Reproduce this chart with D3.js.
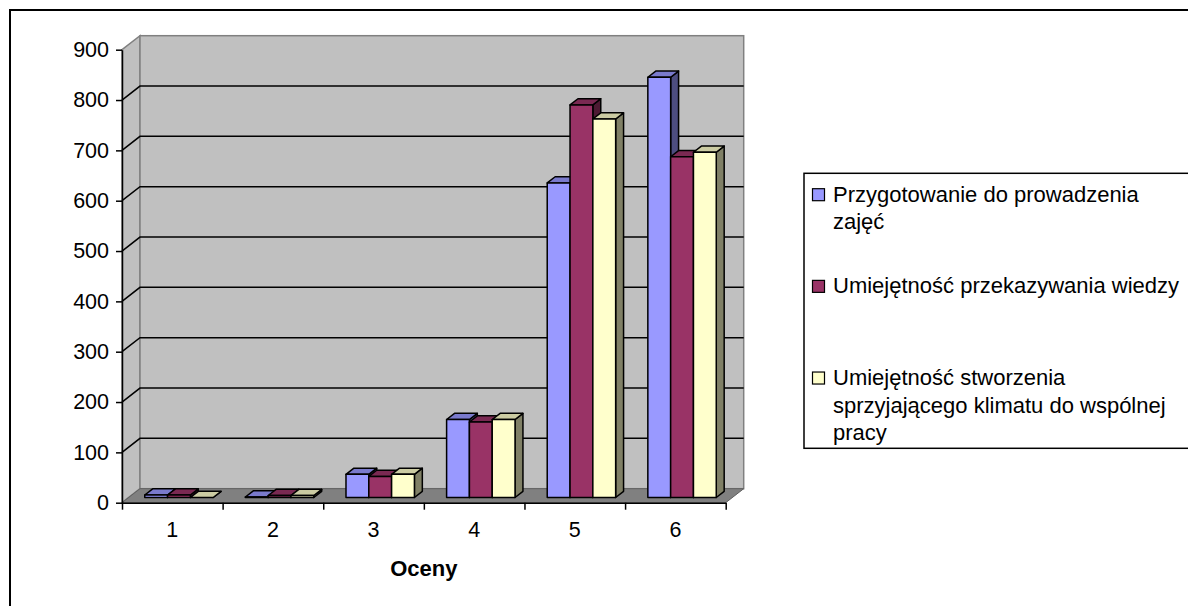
<!DOCTYPE html>
<html>
<head>
<meta charset="utf-8">
<script src="https://cdn.jsdelivr.net/npm/d3@7"></script>
<style>
  html, body { margin: 0; padding: 0; background: #fff; overflow: hidden; }
  svg { display: block; font-family: "Liberation Sans", Arial, sans-serif; }
</style>
</head>
<body>
<div id="chart"></div>
<script>
'use strict';

// values
const categories = ['1', '2', '3', '4', '5', '6'];
const seriesNames = [
    'Przygotowanie do prowadzenia zajęć',
    'Umiejętność przekazywania wiedzy',
    'Umiejętność stworzenia sprzyjającego klimatu do wspólnej pracy'
];
const przygotowanie = [5, 1, 46, 155, 625, 835];
const przekazywanie = [5, 4, 42, 150, 780, 677];
const klimat = [0, 4, 46, 155, 752, 686];
const yTicks = [0, 100, 200, 300, 400, 500, 600, 700, 800, 900];
const xTitle = 'Oceny';

const seriesValues = [przygotowanie, przekazywanie, klimat];

function shade(color, k) {
    const c = d3.rgb(color);
    return d3.rgb(c.r * k, c.g * k, c.b * k).formatHex();
}

function draw() {
    const width = 1188, height = 606;
    const svg = d3.select('#chart').append('svg')
        .attr('width', width)
        .attr('height', height);

    // outer chart frame (runs off the right and bottom edges)
    svg.append('rect')
        .attr('x', 10).attr('y', 10)
        .attr('width', width + 20).attr('height', height + 20)
        .attr('fill', '#fff').attr('stroke', '#000').attr('stroke-width', 2);

    // front plane of the 3D box
    const x0 = 122, x1 = 725.7;
    const depth = { x: 18, y: -14 };

    const x = d3.scaleBand().domain(categories).range([x0, x1]);
    const xEdge = d3.scaleLinear().domain([0, categories.length]).range([x0, x1]);
    const y = d3.scaleLinear().domain([0, 900]).range([502.7, 49.7]);
    const color = d3.scaleOrdinal().domain(seriesNames).range(['#9999FF', '#993366', '#FFFFCC']);

    const pts = p => p.map(d => d.join(',')).join(' ');
    const yTop = y(900), yBot = y(0);

    // side wall
    svg.append('polygon')
        .attr('points', pts([[x0, yBot], [x0, yTop], [x0 + depth.x, yTop + depth.y], [x0 + depth.x, yBot + depth.y]]))
        .attr('fill', '#C0C0C0').attr('stroke', '#808080').attr('stroke-width', 1.5);
    // back wall
    svg.append('rect')
        .attr('x', x0 + depth.x).attr('y', yTop + depth.y)
        .attr('width', x1 - x0).attr('height', yBot - yTop)
        .attr('fill', '#C0C0C0').attr('stroke', '#808080').attr('stroke-width', 1.5);
    // floor
    svg.append('polygon')
        .attr('points', pts([[x0, yBot], [x1, yBot], [x1 + depth.x, yBot + depth.y], [x0 + depth.x, yBot + depth.y]]))
        .attr('fill', '#808080').attr('stroke', '#606060').attr('stroke-width', 1);

    // gridlines on back and side wall
    const grid = svg.append('g').attr('stroke', '#000').attr('stroke-width', 1.5).attr('fill', 'none');
    grid.selectAll('polyline')
        .data(yTicks.filter(v => v > 0 && v < 900))
        .join('polyline')
        .attr('points', v => pts([[x0, y(v)], [x0 + depth.x, y(v) + depth.y], [x1 + depth.x, y(v) + depth.y]]));

    // bars
    const f1 = 0.37, bd = 0.44;
    const groupW = x.bandwidth() * 0.68;
    const xs = d3.scaleBand().domain(seriesNames).range([0, groupW]);
    const bw = xs.bandwidth();
    const front = { x: depth.x * f1, y: depth.y * f1 };
    const bdep = { x: depth.x * bd, y: depth.y * bd };

    const bars = [];
    categories.forEach((c, i) => {
        seriesNames.forEach((s, j) => {
            bars.push({ cat: c, series: s, value: seriesValues[j][i] });
        });
    });

    const barG = svg.append('g')
        .attr('stroke', '#000').attr('stroke-width', 1.5).attr('stroke-linejoin', 'round');
    barG.selectAll('g.bar')
        .data(bars)
        .join('g')
        .attr('class', 'bar')
        .each(function (d) {
            const g = d3.select(this);
            const bx = x(d.cat) + (x.bandwidth() - groupW) / 2 + xs(d.series) + front.x;
            const by = y(0) + front.y;
            const ty = by - (y(0) - y(d.value));
            const col = color(d.series);
            // right side, top, then front face
            g.append('polygon')
                .attr('points', pts([[bx + bw, by], [bx + bw, ty], [bx + bw + bdep.x, ty + bdep.y], [bx + bw + bdep.x, by + bdep.y]]))
                .attr('fill', shade(col, 0.5));
            g.append('polygon')
                .attr('points', pts([[bx, ty], [bx + bw, ty], [bx + bw + bdep.x, ty + bdep.y], [bx + bdep.x, ty + bdep.y]]))
                .attr('fill', shade(col, 0.8));
            g.append('rect')
                .attr('x', bx).attr('y', ty)
                .attr('width', bw).attr('height', by - ty)
                .attr('fill', col);
        });

    // axes
    const font = '21.5px "Liberation Sans", Arial, sans-serif';
    const yAxis = svg.append('g')
        .attr('transform', `translate(${x0},0)`)
        .style('font', font)
        .call(d3.axisLeft(y).tickValues(yTicks).tickSize(6).tickPadding(7).tickSizeOuter(0));
    yAxis.selectAll('line, path').attr('stroke', '#000').attr('stroke-width', 1.5);
    yAxis.selectAll('text').attr('fill', '#000');

    const xTicks = svg.append('g')
        .attr('transform', `translate(0,${yBot})`)
        .call(d3.axisBottom(xEdge).ticks(categories.length).tickFormat('').tickSize(7).tickSizeOuter(0));
    xTicks.selectAll('line, path').attr('stroke', '#000').attr('stroke-width', 1.5);

    const xLabels = svg.append('g')
        .attr('transform', `translate(0,${yBot})`)
        .style('font', font)
        .call(d3.axisBottom(x).tickSize(0).tickPadding(19));
    xLabels.select('path').remove();
    xLabels.selectAll('text').attr('fill', '#000');

    svg.append('text')
        .attr('x', (x0 + x1) / 2)
        .attr('y', 576)
        .attr('text-anchor', 'middle')
        .style('font', 'bold 22px "Liberation Sans", Arial, sans-serif')
        .text(xTitle);

    // legend
    const lg = { x: 804, y: 173.3, h: 275 };
    svg.append('rect')
        .attr('x', lg.x).attr('y', lg.y)
        .attr('width', 420).attr('height', lg.h)
        .attr('fill', '#fff').attr('stroke', '#000').attr('stroke-width', 1.5);

    const slot = lg.h / seriesNames.length;
    const lineH = 27.5;
    const maxW = 356;
    const entry = svg.append('g').selectAll('g')
        .data(seriesNames)
        .join('g')
        .attr('transform', (d, i) => `translate(${lg.x}, ${lg.y + 28.4 + i * slot})`);

    entry.append('rect')
        .attr('x', 8.5).attr('y', -13)
        .attr('width', 12).attr('height', 12)
        .attr('fill', d => color(d))
        .attr('stroke', '#000').attr('stroke-width', 1.2);

    entry.append('text')
        .style('font', '22px "Liberation Sans", Arial, sans-serif')
        .attr('fill', '#000')
        .each(function (d) {
            const text = d3.select(this);
            const words = d.split(' ');
            let line = [];
            let lineNo = 0;
            let tspan = text.append('tspan').attr('x', 29).attr('y', 0);
            words.forEach(w => {
                line.push(w);
                tspan.text(line.join(' '));
                if (tspan.node().getComputedTextLength() > maxW && line.length > 1) {
                    line.pop();
                    tspan.text(line.join(' '));
                    line = [w];
                    lineNo += 1;
                    tspan = text.append('tspan').attr('x', 29).attr('y', lineNo * lineH).text(w);
                }
            });
        });
}

draw();
</script>
</body>
</html>
